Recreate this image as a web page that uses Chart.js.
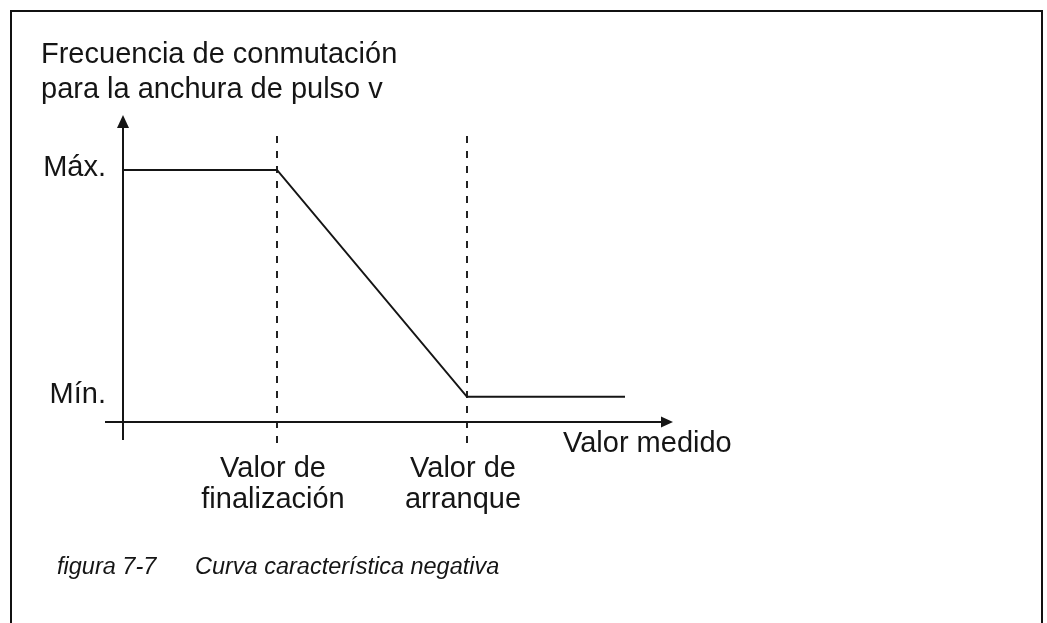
<!DOCTYPE html>
<html>
<head>
<meta charset="utf-8">
<script src="https://cdn.jsdelivr.net/npm/chart.js@4"></script>
<style>
  html, body { margin: 0; padding: 0; background: #fff; overflow: hidden; }
  #frame {
    position: absolute; left: 10px; top: 10px;
    width: 1033px; height: 700px;
    box-sizing: border-box;
    border: 2px solid #111;
  }
  #wrap { position: absolute; left: 0; top: 0; width: 1047px; height: 623px; }
</style>
</head>
<body>
<div id="frame"></div>
<div id="wrap"><canvas id="chart" width="1047" height="623"></canvas></div>
<script>
const measured = [0, 15.4, 34.4, 50.2];
const frequency = [10, 10, 1, 1];

// y tick marks
const yTickValues = [10, 1];
const yTickLabels = ['Máx.', 'Mín.'];

// dashed markers on the x axis
const markerValues = [15.4, 34.4];
const markerLabels = [['Valor de', 'finalización'], ['Valor de', 'arranque']];

const yTitle = ['Frecuencia de conmutación', 'para la anchura de pulso v'];
const xTitle = 'Valor medido';
const captionNum = 'figura 7-7';
const captionText = 'Curva característica negativa';

const FONT = '"Liberation Sans", Arial, Helvetica, sans-serif';
const INK = '#151515';

// draws the axes with arrows, dashed markers and all the labels
const diagramPlugin = {
  id: 'diagram',
  beforeDatasetsDraw(chart) {
    const ctx = chart.ctx;
    const xs = chart.scales.x;
    const ys = chart.scales.y;
    const area = chart.chartArea;
    const x0 = xs.getPixelForValue(0);
    const y0 = ys.getPixelForValue(0);

    ctx.save();
    // dashed markers
    ctx.strokeStyle = '#222';
    ctx.lineWidth = 2;
    ctx.setLineDash([7, 8]);
    markerValues.forEach(function(v) {
      const px = Math.round(xs.getPixelForValue(v));
      ctx.beginPath();
      ctx.moveTo(px, 136);
      ctx.lineTo(px, area.bottom);
      ctx.stroke();
    });
    ctx.setLineDash([]);

    // axes
    ctx.strokeStyle = INK;
    ctx.lineWidth = 2;
    ctx.beginPath();
    ctx.moveTo(x0, area.bottom - 5);
    ctx.lineTo(x0, area.top + 10);
    ctx.moveTo(area.left, y0);
    ctx.lineTo(area.right - 10, y0);
    ctx.stroke();

    // arrow heads
    ctx.fillStyle = INK;
    ctx.beginPath();
    ctx.moveTo(x0, area.top);
    ctx.lineTo(x0 - 6, area.top + 13);
    ctx.lineTo(x0 + 6, area.top + 13);
    ctx.closePath();
    ctx.fill();
    ctx.beginPath();
    ctx.moveTo(area.right, y0);
    ctx.lineTo(area.right - 12, y0 - 5.5);
    ctx.lineTo(area.right - 12, y0 + 5.5);
    ctx.closePath();
    ctx.fill();

    // texts
    ctx.font = '29px ' + FONT;
    ctx.textBaseline = 'alphabetic';
    ctx.textAlign = 'left';
    ctx.fillText(yTitle[0], 41, 63);
    ctx.fillText(yTitle[1], 41, 98);

    ctx.textAlign = 'right';
    yTickValues.forEach(function(v, i) {
      ctx.fillText(yTickLabels[i], 106, ys.getPixelForValue(v) + 6);
    });

    ctx.textAlign = 'center';
    markerValues.forEach(function(v, i) {
      const px = xs.getPixelForValue(v) - 4;
      ctx.fillText(markerLabels[i][0], px, 477);
      ctx.fillText(markerLabels[i][1], px, 508);
    });

    ctx.textAlign = 'left';
    ctx.fillText(xTitle, 563, 452);

    ctx.font = 'italic 23.5px ' + FONT;
    ctx.fillText(captionNum, 57, 574);
    ctx.fillText(captionText, 195, 574);
    ctx.restore();
  }
};

const points = measured.map(function(x, i) { return { x: x, y: frequency[i] }; });

new Chart(document.getElementById('chart'), {
  type: 'line',
  data: {
    datasets: [{
      data: points,
      borderColor: INK,
      borderWidth: 2,
      pointRadius: 0,
      tension: 0,
      fill: false
    }]
  },
  options: {
    responsive: false,
    animation: false,
    events: [],
    layout: { padding: { left: 105, right: 1047 - 673, top: 115, bottom: 623 - 445 } },
    plugins: { legend: { display: false }, tooltip: { enabled: false } },
    scales: {
      x: { type: 'linear', min: -1.8, max: 55, display: false },
      y: { type: 'linear', min: -0.913, max: 12.18, display: false }
    }
  },
  plugins: [diagramPlugin]
});
</script>
</body>
</html>
